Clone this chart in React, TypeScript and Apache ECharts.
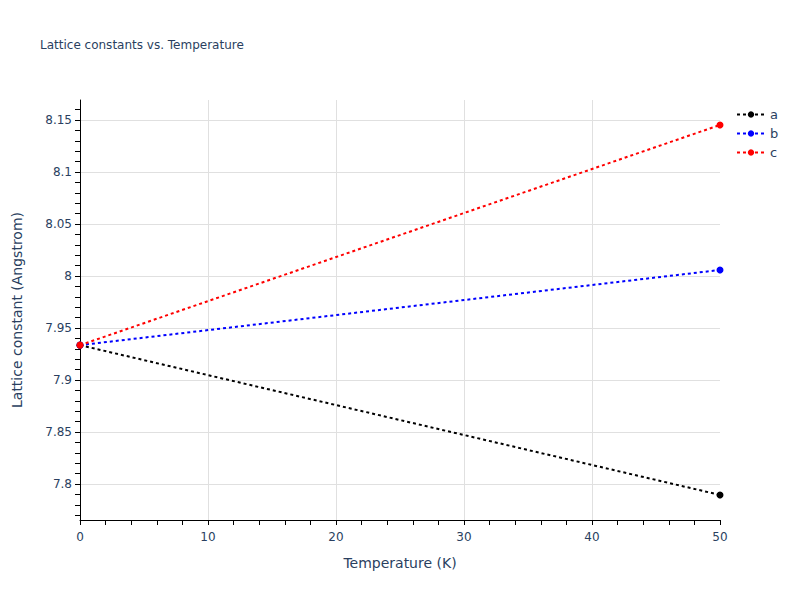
import { useEffect, useRef } from "react";
import * as echarts from "echarts";

const temperatures = [0, 50];
const latticeA = [7.9335, 7.7895];
const latticeB = [7.9335, 8.0058];
const latticeC = [7.9335, 8.1452];

const seriesNames = ["a", "b", "c"];
const seriesColors = ["#000000", "#0000ff", "#ff0000"];

const yMajorTicks = [7.8, 7.85, 7.9, 7.95, 8, 8.05, 8.1, 8.15];
const yMinorTicks = Array.from({ length: 40 }, (_, i) =>
  Math.round((7.77 + i * 0.01) * 100) / 100
);

const FONT = "'DejaVu Sans', Verdana, sans-serif";
const TEXT_COLOR = "#2a3f5f";

export default function App() {
  const chartRef = useRef<HTMLDivElement>(null);

  useEffect(() => {
    document.body.style.margin = "0";
    if (!chartRef.current) return;
    const chart = echarts.init(chartRef.current, undefined, { renderer: "svg" });

    const allSeries = [latticeA, latticeB, latticeC];

    chart.setOption({
      animation: false,
      backgroundColor: "#ffffff",
      title: {
        text: "Lattice constants vs. Temperature",
        left: 35,
        top: 34,
        textStyle: {
          color: TEXT_COLOR,
          fontSize: 12,
          fontWeight: "normal",
          fontFamily: FONT,
        },
      },
      legend: {
        orient: "vertical",
        left: 731,
        top: 103,
        itemWidth: 28,
        itemHeight: 8,
        itemGap: 6,
        textStyle: { color: TEXT_COLOR, fontSize: 13, fontFamily: FONT },
        data: seriesNames,
      },
      grid: { left: 80, right: 80, top: 100, bottom: 80 },
      xAxis: {
        type: "value",
        min: 0,
        max: 50,
        interval: 10,
        name: "Temperature (K)",
        nameLocation: "middle",
        nameGap: 36,
        nameTextStyle: { color: TEXT_COLOR, fontSize: 14, fontFamily: FONT },
        axisLine: { show: true, lineStyle: { color: "#000000", width: 1 } },
        axisTick: { show: true, length: 5, lineStyle: { color: "#000000" } },
        minorTick: { show: true, splitNumber: 5, length: 5, lineStyle: { color: "#000000" } },
        axisLabel: { color: TEXT_COLOR, fontSize: 12, fontFamily: FONT, margin: 11 },
        splitLine: {
          show: true,
          showMinLine: false,
          showMaxLine: false,
          lineStyle: { color: "#e0e0e0", width: 1 },
        },
      },
      yAxis: [
        {
          type: "value",
          min: 7.7654,
          max: 8.1692,
          name: "Lattice constant (Angstrom)",
          nameLocation: "middle",
          nameGap: 56,
          nameTextStyle: { color: TEXT_COLOR, fontSize: 14, fontFamily: FONT },
          axisLine: { show: true, lineStyle: { color: "#000000", width: 1 } },
          axisTick: {
            show: true,
            length: 5,
            customValues: yMajorTicks,
            lineStyle: { color: "#000000" },
          },
          axisLabel: {
            color: TEXT_COLOR,
            fontSize: 12,
            fontFamily: FONT,
            margin: 8,
            customValues: yMajorTicks,
            formatter: (v: number) => String(Math.round(v * 100) / 100),
          },
          splitLine: { show: true, lineStyle: { color: "#e0e0e0", width: 1 } },
        },
        {
          type: "value",
          position: "left",
          min: 7.7654,
          max: 8.1692,
          axisLine: { show: false },
          axisTick: {
            show: true,
            length: 5,
            customValues: yMinorTicks,
            lineStyle: { color: "#000000" },
          },
          axisLabel: { show: false },
          splitLine: { show: false },
        },
      ],
      series: seriesNames.map((name, i) => ({
        name,
        type: "line",
        yAxisIndex: 0,
        data: temperatures.map((t, j) => [t, allSeries[i][j]]),
        symbol: "circle",
        symbolSize: 7,
        showSymbol: true,
        itemStyle: { color: seriesColors[i] },
        lineStyle: { color: seriesColors[i], width: 2, type: [3, 3] },
        emphasis: { disabled: true },
      })),
    });

    return () => {
      chart.dispose();
    };
  }, []);

  return <div ref={chartRef} style={{ width: 800, height: 600 }} />;
}
